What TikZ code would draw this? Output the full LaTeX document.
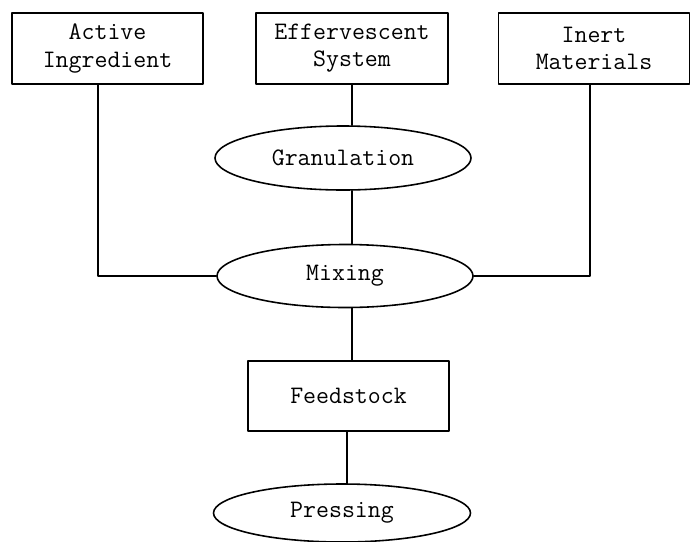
\documentclass[tikz,border=0pt]{standalone}
\usepackage{fontspec}
\usetikzlibrary{shapes.geometric}
\begin{document}
\begin{tikzpicture}[line width=.9pt, line join=round, line cap=round, font=\fontsize{14.3}{15.4}\selectfont\ttfamily,
procbox/.style={draw, rectangle, align=center, inner sep=0pt},
procoval/.style={draw, ellipse, inner sep=0pt, minimum width=5.12cm}]
\useasboundingbox (0,0) rectangle (13.8,-10.82);
%\draw[color=gray!50,dashed] (0,0) grid (13.8,-10.82);
\node[procbox, minimum width=3.82cm, minimum height=1.42cm] (act) at (2.15,-.97) {Active\\Ingredient};
\node[procbox, minimum width=3.84cm, minimum height=1.42cm] (eff) at (7.04,-.97) {Effervescent\\System};
\node[procbox, minimum width=3.82cm, minimum height=1.42cm] (ine) at (11.88,-.97) {Inert\\Materials};
\node[procoval, minimum height=1.28cm] (gran) at (6.86,-3.16) {Granulation};
\node[procoval, minimum height=1.26cm] (mix) at (6.90,-5.52) {Mixing};
\node[procbox, minimum width=4.02cm, minimum height=1.40cm] (feed) at (6.97,-7.92) {Feedstock};
\node[procoval, minimum height=1.16cm, minimum width=5.14cm] (pres) at (6.84,-10.26) {Pressing};
\draw (eff.south)--(eff.south |- gran.north) (eff.south |- gran.south)--(eff.south |- mix.north);
\draw ([xshift=-.19cm]act.south) |- (mix.west);
\draw ([xshift=-.08cm]ine.south) |- (mix.east);
\draw (eff.south |- mix.south)--(eff.south |- feed.north);
\draw ([xshift=-.03cm]feed.south)--([xshift=-.03cm]feed.south |- pres.north);
\end{tikzpicture}
\end{document}
